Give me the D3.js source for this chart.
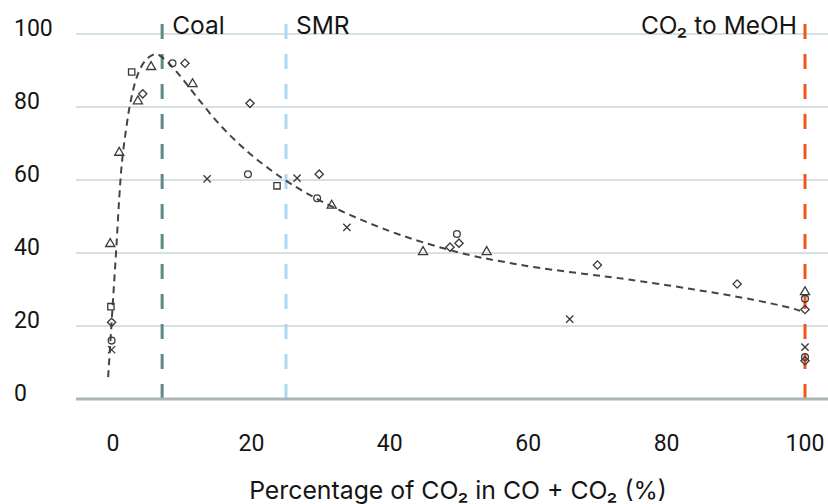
<!DOCTYPE html>
<html>
<head>
<meta charset="utf-8">
<script src="https://cdn.jsdelivr.net/npm/d3@7"></script>
<style>
  html, body { margin: 0; padding: 0; background: #fff; }
  svg { display: block; }
  text { fill: #151515; }
  .num { font-family: Roboto, "Liberation Sans", sans-serif; }
  .word { font-family: Inter, Roboto, "Liberation Sans", sans-serif; }
</style>
</head>
<body>
<svg id="chart" width="828" height="504"></svg>
<script>
// ---- data ----
const xTicks = [0, 20, 40, 60, 80, 100];
const yTicks = [0, 20, 40, 60, 80, 100];
const xTitle = "Percentage of CO\u2082 in CO + CO\u2082 (%)";

const refLabels = ["Coal", "SMR", "CO\u2082 to MeOH"];
const refValues = [7.1, 25, 100];
const refColors = ["#5d8a86", "#aad9f6", "#f2541b"];

const triX = [-0.4, 0.9, 3.6, 5.5, 11.5, 31.6, 44.8, 54, 100];
const triY = [42.5, 67.5, 81.6, 91, 86.3, 53, 40.3, 40.3, 29.3];
const sqX = [-0.3, 2.7, 23.7];
const sqY = [25.3, 89.6, 58.4];
const diaX = [-0.2, 4.3, 10.4, 19.8, 29.8, 48.7, 50, 70, 90.2, 100, 100];
const diaY = [21, 83.6, 92, 81, 61.6, 41.6, 42.7, 36.7, 31.5, 24.5, 10.5];
const circX = [-0.2, 8.6, 19.5, 29.5, 49.7, 100, 100];
const circY = [16, 92, 61.6, 55, 45.2, 27.5, 11.5];
const crossX = [-0.2, 13.6, 26.6, 33.8, 66, 100];
const crossY = [13.5, 60.3, 60.5, 47, 21.9, 14.2];

const fitX = [-0.7, -0.3, 0.1, 0.5, 0.9, 1.3, 1.9, 2.6, 3.6, 4.8, 6.2, 7.5, 9.7, 12, 15.5, 19.3, 23.1, 26, 30, 35, 40, 45, 51.6, 56.4, 61.3, 68.5, 74.3, 84, 92.5, 97.8, 99.3];
const fitY = [6, 18, 30, 42, 55, 65, 74, 82, 89, 93, 94.5, 93, 88.5, 83, 75, 68, 62.3, 58.6, 54.3, 49.8, 46, 42.8, 39.4, 37.6, 36, 34.2, 32.8, 30, 27.2, 25, 24.2];

// ---- chart ----
const svg = d3.select("#chart");
const x = d3.scaleLinear().domain([0, 100]).range([113, 805]);
const y = d3.scaleLinear().domain([0, 100]).range([399, 34]);
const gridLeft = 76, gridRight = 828;

// gridlines
svg.append("g").selectAll("line").data(yTicks.filter(d => d !== 0)).join("line")
  .attr("x1", gridLeft).attr("x2", gridRight)
  .attr("y1", d => y(d)).attr("y2", d => y(d))
  .attr("stroke", "#d6e2e1").attr("stroke-width", 2);

// y tick labels
svg.append("g").selectAll("text").data(yTicks).join("text")
  .attr("class", "num")
  .attr("x", 14).attr("y", d => y(d) + 2)
  .attr("font-size", 23)
  .text(d => d);

// reference vertical lines
const refs = refLabels.map((l, i) => ({ label: l, v: refValues[i], c: refColors[i] }));
svg.append("g").selectAll("line").data(refs).join("line")
  .attr("x1", d => x(d.v)).attr("x2", d => x(d.v))
  .attr("y1", y(0)).attr("y2", 18)
  .attr("stroke", d => d.c).attr("stroke-width", 3)
  .attr("stroke-dasharray", "15 15");

// reference labels
svg.append("g").selectAll("text").data(refs).join("text")
  .attr("class", "word")
  .attr("x", (d, i) => i === 2 ? x(d.v) - 8 : x(d.v) + 10)
  .attr("y", 34)
  .attr("text-anchor", (d, i) => i === 2 ? "end" : "start")
  .attr("font-size", 24.5)
  .text(d => d.label);

// baseline
svg.append("line")
  .attr("x1", gridLeft).attr("x2", gridRight)
  .attr("y1", y(0)).attr("y2", y(0))
  .attr("stroke", "#a9b6b5").attr("stroke-width", 3);

// x tick labels
svg.append("g").selectAll("text").data(xTicks).join("text")
  .attr("class", "num")
  .attr("x", d => x(d)).attr("y", 451)
  .attr("text-anchor", "middle")
  .attr("font-size", 23)
  .text(d => d);

// x title
svg.append("text")
  .attr("class", "word")
  .attr("x", 458).attr("y", 499)
  .attr("text-anchor", "middle")
  .attr("font-size", 24.8)
  .text(xTitle);

// fit curve
const fit = fitX.map((v, i) => [v, fitY[i]]);
svg.append("path")
  .datum(fit)
  .attr("d", d3.line().x(d => x(d[0])).y(d => y(d[1])).curve(d3.curveCatmullRom.alpha(0.5)))
  .attr("fill", "none")
  .attr("stroke", "#444")
  .attr("stroke-width", 2)
  .attr("stroke-dasharray", "7 5");

// markers
const markerSets = [
  { xs: triX, ys: triY, type: d3.symbolTriangle, size: 36, rot: 0 },
  { xs: sqX, ys: sqY, type: d3.symbolSquare, size: 40, rot: 0 },
  { xs: diaX, ys: diaY, type: d3.symbolSquare, size: 34, rot: 45 },
  { xs: circX, ys: circY, type: d3.symbolCircle, size: 36, rot: 0 },
  { xs: crossX, ys: crossY, type: d3.symbolTimes || d3.symbolCross, size: 36, rot: d3.symbolTimes ? 0 : 45 }
];
const mg = svg.append("g");
markerSets.forEach(s => {
  const pts = s.xs.map((v, i) => [v, s.ys[i]]);
  mg.append("g").selectAll("path").data(pts).join("path")
    .attr("d", d3.symbol().type(s.type).size(s.size))
    .attr("transform", d => `translate(${x(d[0])},${y(d[1])}) rotate(${s.rot})`)
    .attr("fill", "none")
    .attr("stroke", "#3a3a3a")
    .attr("stroke-width", 1.3);
});
</script>
</body>
</html>
